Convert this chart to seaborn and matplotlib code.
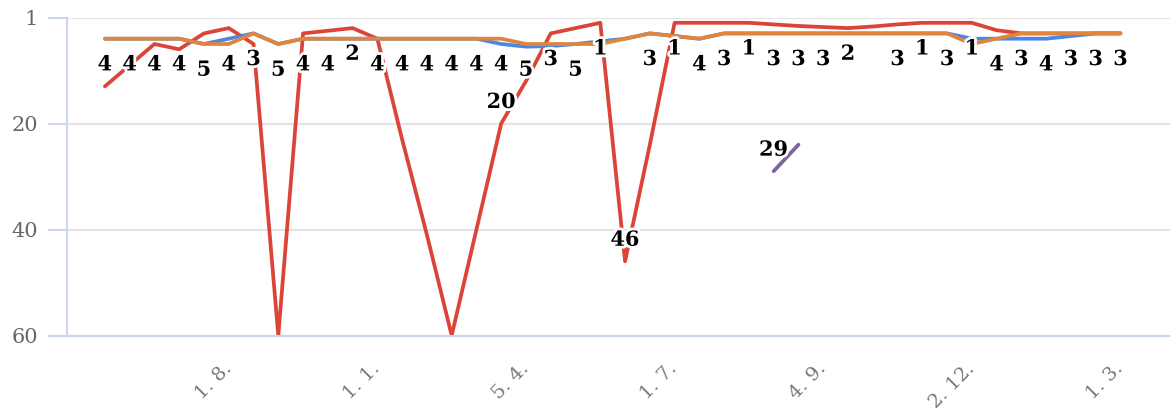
import numpy as np
import pandas as pd
import matplotlib.pyplot as plt
import matplotlib.patheffects as pe
import seaborn as sns

sns.set_theme(style="white")
plt.rcParams['font.family'] = ['DejaVu Serif']

# --- Data (rank per round, lower = better) ---
nan = np.nan
red_vals = [13, 9, 5, 6, 3, 2, 5, 60, 3, 2.5, 2, 4, 23, 41, 60, 40, 20, 12, 3, 2,
            1, 46, 24, 1, 1, 1, 1, 1.3, 1.6, 1.8, 2, 1.7, 1.3, 1, 1, 1, 2.4, 3, 3, 3,
            3, 3]
blue_vals = [4, 4, 4, 4, 5, 4, 3, 5, 4, 4, 4, 4, 4, 4, 4, 4, 5, 5.5, 5.4, 5,
             4.5, 4, 3, 3.5, 4, 3, 3, 3, 3, 3, 3, 3, 3, 3, 3, 4, 4, 4, 4, 3.5,
             3, 3]
orange_vals = [4, 4, 4, 4, 5, 5, 3, 5, 4, 4, 4, 4, 4, 4, 4, 4, 4, 5, 5, 5,
               5, 4, 3, 3.5, 4, 3, 3, 3, 3, 3, 3, 3, 3, 3, 3, 5, 4, 3, 3, 3,
               3, 3]
purple_vals = [nan] * 27 + [29, 24] + [nan] * 13

# labels shown under the lines / above the points
label_low = [4, 4, 4, 4, 5, 4, 3, 5, 4, 4, 2, 4, 4, 4, 4, 4, 4, 5, 3, 5,
             1, None, 3, 1, 4, 3, 1, 3, 3, 3, 2, None, 3, 1, 3, 1, 4, 3, 4, 3,
             3, 3]
label_high = [None] * 16 + [20] + [None] * 4 + [46] + [None] * 5 + [29] + [None] * 14

tick_labels = ["1. 8.", "1. 1.", "5. 4.", "1. 7.", "4. 9.", "2. 12.", "1. 3."]

series_names = ["red", "blue", "orange", "purple"]
colors = {"red": "#dc4437", "blue": "#4a86e8", "orange": "#e0863c", "purple": "#8064a2"}

x = np.arange(len(red_vals))
frames = []
for name, vals in zip(series_names, [red_vals, blue_vals, orange_vals, purple_vals]):
    frames.append(pd.DataFrame({"idx": x, "rank": vals, "series": name}))
df = pd.concat(frames).dropna()

fig = plt.figure(figsize=(11.7, 4.12), dpi=100)
ax = fig.add_axes([67 / 1170, 1 - 335.5 / 412, 1 - 67 / 1170, 318 / 412])

sns.lineplot(data=df, x="idx", y="rank", hue="series", hue_order=series_names,
             palette=colors, estimator=None, linewidth=2.7, legend=False, ax=ax,
             solid_capstyle="round", solid_joinstyle="round")

halo = [pe.withStroke(linewidth=4, foreground="white")]
for i, v in enumerate(label_low):
    if v is None:
        continue
    ax.annotate(str(v), (x[i], v), xytext=(0, -18.5), textcoords="offset points",
                ha="center", va="center", fontsize=15, fontweight="bold",
                color="black", path_effects=halo, zorder=5)
for i, v in enumerate(label_high):
    if v is None:
        continue
    ax.annotate(str(v), (x[i], v), xytext=(0, 15.5), textcoords="offset points",
                ha="center", va="center", fontsize=15, fontweight="bold",
                color="black", path_effects=halo, zorder=5)

ax.set_xlim(-1.53, 43.0)
ax.set_ylim(60, 0)
ax.set_yticks([0, 20, 40, 60], ["1", "20", "40", "60"])
ax.set_xticks(x[5::6], tick_labels)
ax.set_xlabel("")
ax.set_ylabel("")

ax.yaxis.grid(True, color="#e3e3e3", linewidth=1.5)
ax.xaxis.grid(False)
ax.set_axisbelow(True)
for side in ["top", "right"]:
    ax.spines[side].set_visible(False)
for side in ["left", "bottom"]:
    ax.spines[side].set_color("#ccd6eb")
    ax.spines[side].set_linewidth(1.5)

ax.tick_params(axis="y", length=14, width=1.5, color="#ccd6eb", labelcolor="#666666",
               labelsize=15, pad=7, left=True)
ax.tick_params(axis="x", length=0, labelcolor="#777777", labelsize=14, pad=22)
for lbl in ax.get_xticklabels():
    lbl.set_rotation(45)
    lbl.set_ha("right")
    lbl.set_va("center")
    lbl.set_rotation_mode("anchor")

fig.savefig("out.png", dpi=100)
